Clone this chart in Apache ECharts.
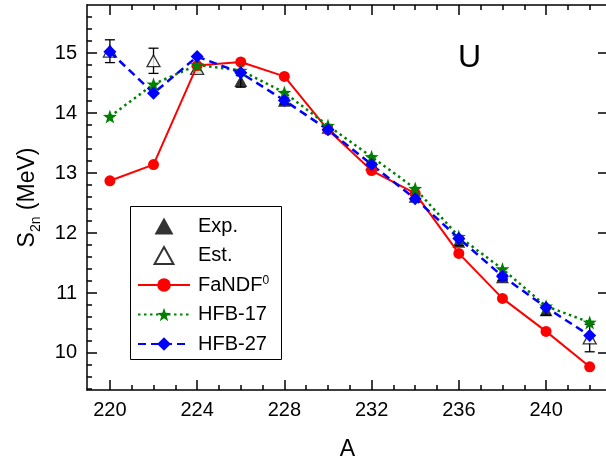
<!DOCTYPE html>
<html>
<head>
<meta charset="utf-8">
<script src="https://cdn.jsdelivr.net/npm/echarts@6/dist/echarts.min.js"></script>
<style>html,body{margin:0;padding:0;background:#fff;overflow:hidden}#c{width:606px;height:460px}</style>
</head>
<body>
<div id="c"></div>
<script>
// ---- data ----
const massNumbers = [220, 222, 224, 226, 228, 230, 232, 234, 236, 238, 240, 242];
const fandf = [12.87, 13.14, 14.79, 14.85, 14.61, 13.72, 13.04, 12.66, 11.66, 10.91, 10.36, 9.77];
const hfb17 = [13.94, 14.48, 14.80, 14.71, 14.34, 13.79, 13.27, 12.74, 11.94, 11.40, 10.78, 10.51];
const hfb27 = [15.02, 14.33, 14.94, 14.67, 14.21, 13.72, 13.14, 12.57, 11.91, 11.28, 10.76, 10.29];
const expA = [226, 228, 230, 232, 234, 236, 238, 240];
const expVal = [14.53, 14.20, 13.75, 13.14, 12.60, 11.85, 11.26, 10.71];
const expErr = [0.10, 0.05, 0.03, 0.03, 0.03, 0.06, 0.05, 0.08];
const estA = [220, 222, 224, 242];
const estVal = [15.03, 14.87, 14.74, 10.25];
const estErr = [0.19, 0.21, 0.06, 0.23];
const xMajorTicks = [220, 224, 228, 232, 236, 240];
const xMinorTicks = [221, 222, 223, 225, 226, 227, 229, 230, 231, 233, 234, 235, 237, 238, 239, 241, 242];
const yMajorTicks = [10, 11, 12, 13, 14, 15];
const yMinorTicks = [9.4, 9.6, 9.8, 10.2, 10.4, 10.6, 10.8, 11.2, 11.4, 11.6, 11.8, 12.2, 12.4, 12.6, 12.8,
                     13.2, 13.4, 13.6, 13.8, 14.2, 14.4, 14.6, 14.8, 15.2, 15.4, 15.6];
const legendNames = ['Exp.', 'Est.', 'FaNDF0', 'HFB-17', 'HFB-27'];

// ---- chart ----
const FONT = "'Liberation Sans', Arial, sans-serif";
const XMIN = 218.95, XMAX = 242.84, YMIN = 9.383, YMAX = 15.8;
const starPath = 'path://M0,-10L2.35,-3.24L9.51,-3.09L3.8,1.24L5.88,8.09L0,4L-5.88,8.09L-3.8,1.24L-9.51,-3.09L-2.35,-3.24Z';
const diamondPath = 'path://M0,-1L1,0L0,1L-1,0Z';
const trianglePath = 'path://M0,-1L1,0.8L-1,0.8Z';
const axisLineStyle = {show: true, lineStyle: {color: '#000', width: 1.5}};

function xAxisDef(pos, ticks, len, labels, extra) {
  return Object.assign({
    type: 'value', position: pos, min: XMIN, max: XMAX,
    axisLine: labels !== null ? axisLineStyle : {show: false},
    axisTick: {show: true, inside: true, length: len, customValues: ticks, lineStyle: {color: '#000', width: 1.5}},
    axisLabel: labels ? {show: true, customValues: labels, fontSize: 20, color: '#000', fontFamily: FONT, margin: 10} : {show: false},
    splitLine: {show: false}
  }, extra || {});
}
function yAxisDef(pos, ticks, len, labels, extra) {
  return Object.assign({
    type: 'value', position: pos, min: YMIN, max: YMAX,
    axisLine: labels !== null ? axisLineStyle : {show: false},
    axisTick: {show: true, inside: true, length: len, customValues: ticks, lineStyle: {color: '#000', width: 1.5}},
    axisLabel: labels ? {show: true, customValues: labels, fontSize: 20, color: '#000', fontFamily: FONT, margin: 10} : {show: false},
    splitLine: {show: false}
  }, extra || {});
}

function errorSeries(name, xs, vs, es) {
  return {
    type: 'custom', name: name, xAxisIndex: 0, yAxisIndex: 0, silent: true,
    data: xs.map((x, i) => [x, vs[i] - es[i], vs[i] + es[i]]),
    renderItem: function (params, api) {
      const lo = api.coord([api.value(0), api.value(1)]);
      const hi = api.coord([api.value(0), api.value(2)]);
      const w = 5;
      const st = {stroke: '#000', lineWidth: 1.3};
      return {type: 'group', children: [
        {type: 'line', shape: {x1: lo[0], y1: lo[1], x2: hi[0], y2: hi[1]}, style: st},
        {type: 'line', shape: {x1: lo[0] - w, y1: lo[1], x2: lo[0] + w, y2: lo[1]}, style: st},
        {type: 'line', shape: {x1: hi[0] - w, y1: hi[1], x2: hi[0] + w, y2: hi[1]}, style: st}
      ]};
    }
  };
}

const chart = echarts.init(document.getElementById('c'), null, {renderer: 'canvas'});
chart.setOption({
  animation: false,
  backgroundColor: '#fff',
  grid: {left: 87, right: -2, top: 5, bottom: 70, containLabel: false, outerBoundsMode: 'none'},
  xAxis: [
    xAxisDef('bottom', xMajorTicks, 10, xMajorTicks, {
      name: 'A', nameLocation: 'middle', nameGap: 48,
      nameTextStyle: {fontSize: 23, color: '#000', fontFamily: FONT}
    }),
    xAxisDef('bottom', xMinorTicks, 5, null),
    xAxisDef('top', xMajorTicks, 10, false),
    xAxisDef('top', xMinorTicks, 5, null)
  ],
  yAxis: [
    yAxisDef('left', yMajorTicks, 10, yMajorTicks, {
      name: '{a|S}{s|2n}{a| (MeV)}', nameLocation: 'middle', nameGap: 44,
      nameTextStyle: {color: '#000', rich: {
        a: {fontSize: 23, lineHeight: 30, fontFamily: FONT, color: '#000'},
        s: {fontSize: 14, lineHeight: 14, verticalAlign: 'bottom', fontFamily: FONT, color: '#000'}
      }}
    }),
    yAxisDef('left', yMinorTicks, 5, null),
    yAxisDef('right', yMajorTicks, 10, false)
  ],
  legend: {
    orient: 'vertical', left: 137, top: 216, padding: 0,
    itemWidth: 52, itemHeight: 17, itemGap: 9.5,
    symbolKeepAspect: true,
    data: legendNames,
    formatter: function (n) { return n === 'FaNDF0' ? '{m|FaNDF}{sup|0}' : '{m|' + n + '}'; },
    textStyle: {fontSize: 20, color: '#000', fontFamily: FONT, padding: [0, 0, 0, 3],
      rich: {
        m: {fontSize: 20, lineHeight: 20, fontFamily: FONT, color: '#000'},
        sup: {fontSize: 12, lineHeight: 12, verticalAlign: 'top', fontFamily: FONT, color: '#000'}
      }}
  },
  graphic: [
    {type: 'rect', shape: {x: 130.5, y: 206.5, width: 151, height: 153}, style: {fill: 'none', stroke: '#000', lineWidth: 1}, z: 100},
    {type: 'text', left: 458, top: 42, style: {text: 'U', fontSize: 32, fontFamily: FONT, fill: '#000'}, z: 100}
  ],
  series: [
    errorSeries('Exp-err', expA, expVal, expErr),
    {
      type: 'scatter', name: 'Exp.', xAxisIndex: 0, yAxisIndex: 0,
      symbol: trianglePath, symbolSize: 13, symbolKeepAspect: true,
      itemStyle: {color: '#000'},
      data: expA.map((x, i) => [x, expVal[i]])
    },
    errorSeries('Est-err', estA, estVal, estErr),
    {
      type: 'scatter', name: 'Est.', xAxisIndex: 0, yAxisIndex: 0,
      symbol: trianglePath, symbolSize: 13, symbolKeepAspect: true,
      itemStyle: {color: '#fff', borderColor: '#000', borderWidth: 1.3},
      data: estA.map((x, i) => [x, estVal[i]])
    },
    {
      type: 'line', name: 'FaNDF0', xAxisIndex: 0, yAxisIndex: 0,
      symbol: 'circle', symbolSize: 11, showAllSymbol: true,
      lineStyle: {color: '#ff0000', width: 2},
      itemStyle: {color: '#ff0000'},
      data: massNumbers.map((x, i) => [x, fandf[i]])
    },
    {
      type: 'line', name: 'HFB-17', xAxisIndex: 0, yAxisIndex: 0,
      symbol: starPath, symbolSize: 14, showAllSymbol: true,
      lineStyle: {color: '#008000', width: 2.5, type: [2.5, 3.5]},
      itemStyle: {color: '#008000'},
      data: massNumbers.map((x, i) => [x, hfb17[i]])
    },
    {
      type: 'line', name: 'HFB-27', xAxisIndex: 0, yAxisIndex: 0,
      symbol: diamondPath, symbolSize: 13, showAllSymbol: true,
      lineStyle: {color: '#0000ff', width: 2.5, type: [8, 5]},
      itemStyle: {color: '#0000ff'},
      data: massNumbers.map((x, i) => [x, hfb27[i]])
    }
  ]
});
</script>
</body>
</html>
